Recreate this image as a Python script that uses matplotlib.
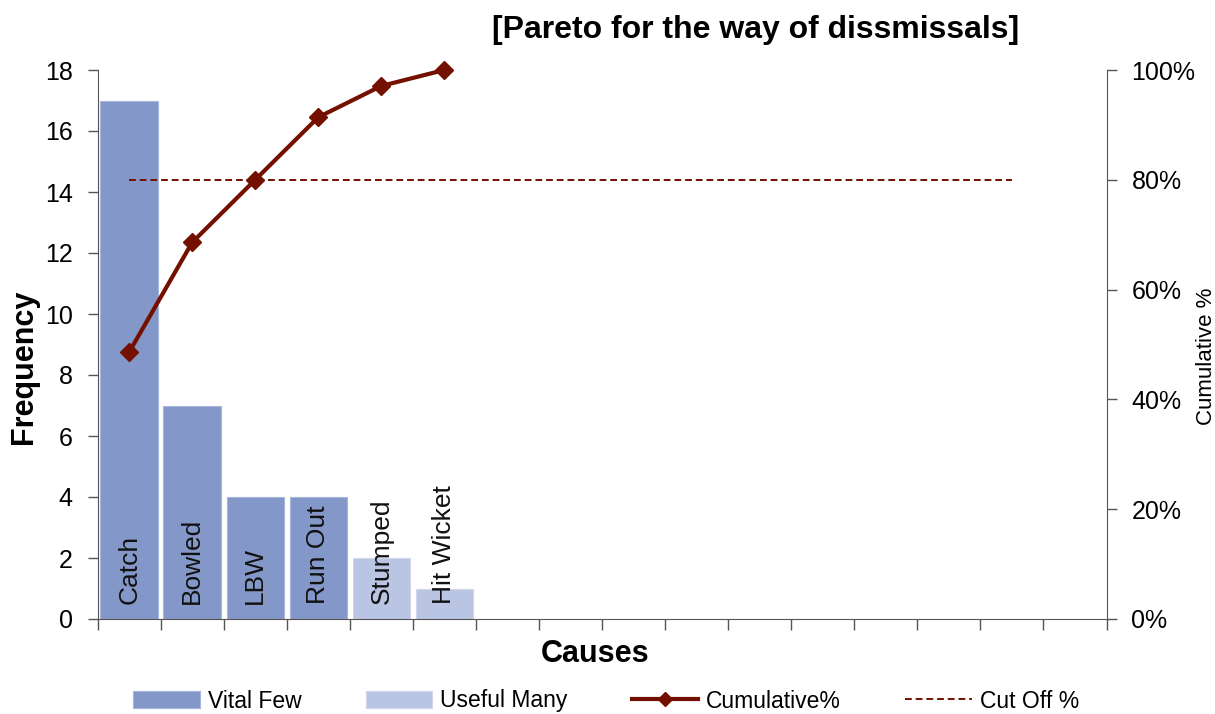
import matplotlib
matplotlib.use('Agg')
import matplotlib.pyplot as plt
from matplotlib.ticker import FuncFormatter

plt.rcParams['font.family'] = ['Liberation Sans', 'DejaVu Sans']

# data
causes = ['Catch', 'Bowled', 'LBW', 'Run Out', 'Stumped', 'Hit Wicket']
freq = [17, 7, 4, 4, 2, 1]
group = ['vital', 'vital', 'vital', 'vital', 'useful', 'useful']
cum_pct = [0.486, 0.686, 0.800, 0.914, 0.971, 1.000]
cutoff = [0.8, 0.8, 0.8, 0.8, 0.8, 0.8, 0.8, 0.8, 0.8, 0.8, 0.8, 0.8, 0.8, 0.8, 0.8]
n_slots = 16

vital_col = '#8497C9'
useful_col = '#BAC4E3'
line_col = '#741000'
spine_col = '#555555'

fig = plt.figure(figsize=(12.15, 7.14), dpi=100)
ax = fig.add_axes([97.6 / 1215, 1 - 619 / 714, (1106.5 - 97.6) / 1215, 549 / 714])

xs = list(range(len(causes)))
vx = [x for x, g in zip(xs, group) if g == 'vital']
vy = [f for f, g in zip(freq, group) if g == 'vital']
ux = [x for x, g in zip(xs, group) if g == 'useful']
uy = [f for f, g in zip(freq, group) if g == 'useful']

ax.bar(vx, vy, width=0.91, color=vital_col, edgecolor='#a8b6dc', linewidth=0.8, label='Vital Few')
ax.bar(ux, uy, width=0.91, color=useful_col, edgecolor='#d0d7ec', linewidth=0.8, label='Useful Many')

for x, name in zip(xs, causes):
    ax.text(x, 0.5, name, rotation=90, ha='center', va='bottom', fontsize=19, color='#111111')

ax.set_xlim(-0.5, n_slots - 0.5)
ax.set_ylim(0, 18)
ax.set_yticks(range(0, 19, 2))
ax.set_xticks([i - 0.5 for i in range(n_slots + 1)])
ax.set_xticklabels([])
ax.tick_params(axis='y', labelsize=18, length=7, width=1, color=spine_col, pad=11)
ax.tick_params(axis='x', length=8, width=1, color=spine_col)

for s in ['top', 'right']:
    ax.spines[s].set_visible(False)
for s in ['left', 'bottom']:
    ax.spines[s].set_color(spine_col)

ax.set_ylabel('Frequency', fontsize=22, fontweight='bold')
ax.yaxis.set_label_coords(-0.058, 0.459)
ax.set_xlabel('Causes', fontsize=22, fontweight='bold')
ax.xaxis.set_label_coords(0.493, -0.036)

ax2 = ax.twinx()
ax2.plot(range(len(cutoff)), cutoff, linestyle=(0, (3.5, 2)), color=line_col, lw=1.4, label='Cut Off %')
ax2.plot(xs, cum_pct, color=line_col, lw=3, marker='D', markersize=9.5, clip_on=False, label='Cumulative%')
ax2.set_ylim(0, 1)
ax2.set_yticks([0, 0.2, 0.4, 0.6, 0.8, 1.0])
ax2.yaxis.set_major_formatter(FuncFormatter(lambda v, p: '%d%%' % round(v * 100)))
ax2.tick_params(axis='y', labelsize=18, length=7, width=1, color=spine_col, pad=11)
for s in ['top', 'left', 'bottom']:
    ax2.spines[s].set_visible(False)
ax2.spines['right'].set_color(spine_col)
ax2.set_ylabel('Cumulative %', fontsize=16)
ax2.yaxis.set_label_coords(1.089, 0.479)

h1, l1 = ax.get_legend_handles_labels()
h2, l2 = ax2.get_legend_handles_labels()
handles = h1 + [h2[1], h2[0]]
labels = l1 + [l2[1], l2[0]]
leg = fig.legend(handles, labels, loc='center', bbox_to_anchor=(606 / 1215, 1 - 701 / 714), ncol=4,
                 frameon=False, fontsize=16.5, handlelength=2.9, handletextpad=0.35, columnspacing=2.8,
                 markerscale=0.7)

fig.text(756 / 1215, 1 - 30 / 714, '[Pareto for the way of dissmissals]', ha='center', va='center',
         fontsize=23, fontweight='bold')

fig.savefig('out.png', dpi=100)
